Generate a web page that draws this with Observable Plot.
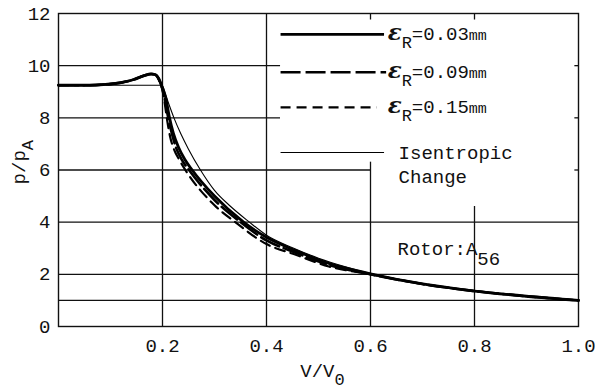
<!DOCTYPE html>
<html><head><meta charset="utf-8">
<script src="https://cdn.jsdelivr.net/npm/d3@7"></script>
<script src="https://cdn.jsdelivr.net/npm/@observablehq/plot@0.6"></script>
<style>body{margin:0;background:#fff}</style>
</head><body><div id="chart"></div>
<script>
// ---- data (V/V0, p/pA) ----
const xTicks = [0.2, 0.4, 0.6, 0.8, 1.0];
const yTicks = [0, 2, 4, 6, 8, 10, 12];

const eps003 = [[0,9.25],[0.06,9.25],[0.09,9.28],[0.12,9.35],[0.145,9.47],[0.165,9.62],[0.178,9.68],[0.186,9.66],[0.193,9.5],[0.2,9.15],[0.206,8.8],[0.213,8.05],[0.221,7.4],[0.231,6.86],[0.243,6.4],[0.257,6.0],[0.3,5.0],[0.356,4.0],[0.4,3.42],[0.455,2.92],[0.52,2.42],[0.6,2.02],[0.7,1.63],[0.8,1.36],[0.9,1.16],[1.0,1.0]];
const eps009 = [[0,9.25],[0.06,9.25],[0.09,9.28],[0.12,9.35],[0.145,9.47],[0.165,9.62],[0.178,9.68],[0.186,9.66],[0.193,9.48],[0.2,9.1],[0.205,8.65],[0.211,8.0],[0.218,7.4],[0.226,6.86],[0.237,6.4],[0.251,6.0],[0.3,4.85],[0.35,4.0],[0.4,3.3],[0.455,2.84],[0.52,2.36],[0.6,2.0],[0.7,1.63],[0.8,1.36],[0.9,1.16],[1.0,1.0]];
const eps015 = [[0,9.25],[0.06,9.25],[0.09,9.28],[0.12,9.35],[0.145,9.47],[0.165,9.62],[0.178,9.68],[0.186,9.66],[0.193,9.45],[0.2,9.05],[0.204,8.6],[0.209,7.9],[0.215,7.25],[0.222,6.8],[0.232,6.4],[0.244,6.0],[0.3,4.65],[0.34,4.0],[0.4,3.16],[0.455,2.76],[0.52,2.3],[0.6,2.0],[0.7,1.63],[0.8,1.36],[0.9,1.16],[1.0,1.0]];
const isentropic = [[0,9.25],[0.1,9.25],[0.195,9.25],[0.2,9.22],[0.205,8.94],[0.212,8.54],[0.222,8.0],[0.235,7.4],[0.25,6.8],[0.273,6.0],[0.3,5.22],[0.33,4.62],[0.366,4.02],[0.4,3.5],[0.45,3.02],[0.5,2.62],[0.55,2.3],[0.6,2.03],[0.7,1.64],[0.8,1.36],[0.9,1.16],[1.0,1.0]];

// grid segments (data units)
const hGrid = [{y:10,x1:0,x2:0.427},{y:8,x1:0,x2:0.427},{y:6,x1:0,x2:0.6},{y:4,x1:0,x2:1},{y:2,x1:0,x2:1},{y:1,x1:0,x2:1}];
const vGrid = [{x:0.2,y1:0,y2:12},{x:0.4,y1:0,y2:12},{x:0.6,y1:0,y2:6.3},{x:0.8,y1:0,y2:4.6}];
const topTicks = [0.6, 0.8];
const rightTicks = [10, 8, 6];

// legend
const legendLabels = ["ε_{R}=0.03mm", "ε_{R}=0.09mm", "ε_{R}=0.15mm", "Isentropic", "Change"];
const legendRows = [
  {x1:0.428, x2:0.627, y:11.2, key:"e03"},
  {x1:0.428, x2:0.631, y:9.75, key:"e09"},
  {x1:0.428, x2:0.613, y:8.4,  key:"e15"},
  {x1:0.428, x2:0.627, y:6.67, key:"iso"}
];
const legendText = [
  {x:0.633, y:11.2, t:legendLabels[0]},
  {x:0.633, y:9.75, t:legendLabels[1]},
  {x:0.633, y:8.4,  t:legendLabels[2]},
  {x:0.654, y:6.67, t:legendLabels[3]},
  {x:0.654, y:5.72, t:legendLabels[4]}
];
const rotorNote = [{x:0.652, y:2.98, t:"Rotor:A_{56}"}];
const xLabel = "V/V_{0}";
const yLabel = "p/p_{A}";

const styles = {
  e03: {stroke:"#000", strokeWidth:2.8},
  e09: {stroke:"#000", strokeWidth:2.6, strokeDasharray:"20,5"},
  e15: {stroke:"#000", strokeWidth:2.2, strokeDasharray:"10,6"},
  iso: {stroke:"#000", strokeWidth:1.1}
};
const X = d => d[0], Y = d => d[1];

const chart = Plot.plot({
  width: 595, height: 392,
  marginTop: 13, marginBottom: 66, marginLeft: 58, marginRight: 17,
  style: {fontFamily: "'Liberation Mono', monospace", fontSize: "19px", color: "#111", background: "#fff"},
  x: {domain: [0, 1]},
  y: {domain: [0, 12]},
  marks: [
    Plot.ruleY(hGrid, {y:"y", x1:"x1", x2:"x2", stroke:"#111", strokeWidth:1.3}),
    Plot.ruleX(vGrid, {x:"x", y1:"y1", y2:"y2", stroke:"#111", strokeWidth:1.3}),
    Plot.ruleX(topTicks, {x:d=>d, y1:12, y2:11.75, stroke:"#111", strokeWidth:1.3}),
    Plot.ruleY(rightTicks, {y:d=>d, x1:0.993, x2:1, stroke:"#111", strokeWidth:1.3}),
    Plot.frame({stroke:"#111", strokeWidth:1.4}),
    Plot.axisX(xTicks, {tickSize:0, tickPadding:12, tickFormat:d3.format(".1f"), label:null}),
    Plot.axisY(yTicks, {tickSize:0, tickPadding:8, label:null}),
    Plot.line(isentropic, {x:X, y:Y, curve:"monotone-x", ...styles.iso}),
    Plot.line(eps003, {x:X, y:Y, curve:"monotone-x", ...styles.e03}),
    Plot.line(eps009, {x:X, y:Y, curve:"monotone-x", ...styles.e09}),
    Plot.line(eps015, {x:X, y:Y, curve:"monotone-x", ...styles.e15}),
    ...legendRows.map(r => Plot.ruleY([r], {y:"y", x1:"x1", x2:"x2", ...styles[r.key]})),
    Plot.text(legendText, {x:"x", y:"y", text:"t", textAnchor:"start", fill:"#111"}),
    Plot.text(rotorNote, {x:"x", y:"y", text:"t", textAnchor:"start", fill:"#111"}),
    Plot.text([xLabel], {text:d=>d, frameAnchor:"bottom", dy:50, dx:4, fill:"#111"}),
    Plot.text([yLabel], {text:d=>d, x:0, y:6.3, rotate:-90, dx:-40, fill:"#111"})
  ]
});
document.getElementById("chart").append(chart);

// rich text: subscripts "_{..}", styled epsilon, smaller "mm"
const subShift = 8;
d3.select(chart).selectAll("text").each(function() {
  const s = this.textContent;
  if (!/_\{|ε/.test(s)) return;
  const el = d3.select(this);
  el.text(null);
  const parts = s.split(/(_\{[^}]*\}|ε|mm$)/).filter(p => p.length);
  let shifted = 0;
  for (const p of parts) {
    const ts = el.append("tspan");
    if (p.startsWith("_{")) {
      const shift = s.startsWith("Rotor") ? 10 : subShift;
      ts.text(p.slice(2, -1)).attr("dy", shift - shifted).attr("font-size", s.startsWith("Rotor") ? "19px" : "17px");
      shifted = shift;
    } else {
      ts.attr("dy", -shifted); shifted = 0;
      if (p === "ε") ts.text("ε").attr("font-family", "'DejaVu Serif', serif").attr("font-weight", "bold").attr("font-style", "italic").attr("font-size", "23px");
      else if (p === "mm") ts.text("mm").attr("font-size", "15px");
      else ts.text(p);
    }
  }
});
</script>
</body></html>
